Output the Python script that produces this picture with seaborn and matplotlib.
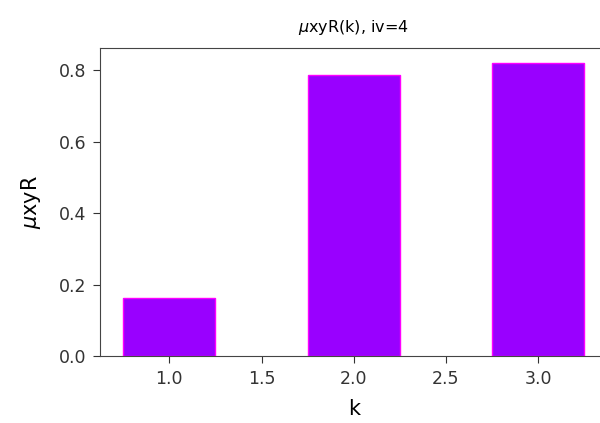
import matplotlib
matplotlib.use('Agg')
import matplotlib.pyplot as plt
import seaborn as sns

# data
k_vals = [1.0, 2.0, 3.0]
mu_xyR = [0.164, 0.786, 0.820]

BAR_COLOR = '#9900ff'
EDGE_COLOR = '#ff00ff'

fig = plt.figure(figsize=(6.0, 4.23), dpi=100)
# axes run past the right edge, the reference is cropped there
ax = fig.add_axes([0.167, 0.158, 0.845, 0.728])

sns.barplot(x=k_vals, y=mu_xyR, native_scale=True, width=0.5,
            color=BAR_COLOR, saturation=1, edgecolor=EDGE_COLOR,
            linewidth=1.0, ax=ax)

ax.set_xlim(0.625, 3.375)
ax.set_ylim(0, 0.861)
ax.set_xticks([1.0, 1.5, 2.0, 2.5, 3.0])
ax.set_xticklabels(['1.0', '1.5', '2.0', '2.5', '3.0'])
ax.set_yticks([0.0, 0.2, 0.4, 0.6, 0.8])
ax.set_yticklabels(['0.0', '0.2', '0.4', '0.6', '0.8'])
ax.tick_params(labelsize=12.5, colors='#333333', length=5, pad=5)
for sp in ax.spines.values():
    sp.set_color('#444444')

ax.set_title(r'$\mu$xyR(k), iv=4', fontsize=11.5, pad=12)
ax.set_xlabel('k', fontsize=15, labelpad=8)
ax.set_ylabel(r'$\mu$xyR', fontsize=15, labelpad=11)

fig.savefig('out.png', dpi=100)
